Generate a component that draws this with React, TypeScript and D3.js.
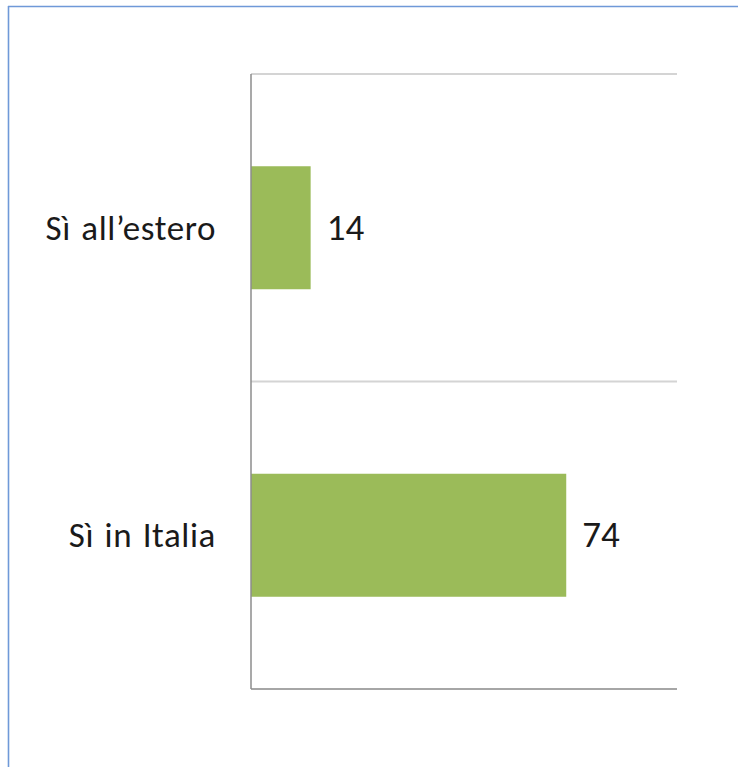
import React from "react";
import * as d3 from "d3";

const categories = ["Sì all’estero", "Sì in Italia"];
const values = [14, 74];
const xDomain = [0, 100];

const W = 738;
const H = 767;
const left = 251;
const right = 677;
const top = 74;
const bottom = 689;

export default function App() {
  const x = d3.scaleLinear().domain(xDomain).range([left, right]);
  const y = d3
    .scaleBand<string>()
    .domain(categories)
    .range([top, bottom])
    .paddingInner(0.6)
    .paddingOuter(0.3);
  const step = y.step();
  const gridYs = [top, top + step, bottom];
  const font = "Carlito, 'Open Sans', 'Noto Sans', sans-serif";
  return (
    <svg
      width={W}
      height={H}
      style={{ position: "absolute", left: 0, top: 0, background: "#fff" }}
    >
      <line x1={8.5} y1={6} x2={8.5} y2={H} stroke="#6f99d8" strokeWidth={1.6} />
      <line x1={8} y1={6.5} x2={W} y2={6.5} stroke="#6f99d8" strokeWidth={1.6} />
      {gridYs.map((gy, i) => (
        <line
          key={i}
          x1={left}
          x2={right}
          y1={gy}
          y2={gy}
          stroke={i === 2 ? "#a6a6a6" : "#d4d4d4"}
          strokeWidth={2}
        />
      ))}
      {categories.map((c, i) => (
        <g key={c}>
          <rect
            x={x(0)}
            y={y(c)!}
            width={x(values[i]) - x(0)}
            height={y.bandwidth()}
            fill="#9bbb59"
          />
          <text
            x={left - 35}
            y={y(c)! + y.bandwidth() / 2 + 12}
            textAnchor="end"
            fontFamily={font}
            fontSize={35}
            letterSpacing={0.6}
            wordSpacing={2}
            fill="#1a1a1a"
          >
            {c}
          </text>
          <text
            x={x(values[i]) + 16}
            y={y(c)! + y.bandwidth() / 2 + 12}
            fontFamily={font}
            fontSize={37}
            fill="#1a1a1a"
          >
            {values[i]}
          </text>
        </g>
      ))}
      <line x1={left} x2={left} y1={top} y2={bottom} stroke="#8c8c8c" strokeWidth={1.5} />
    </svg>
  );
}
